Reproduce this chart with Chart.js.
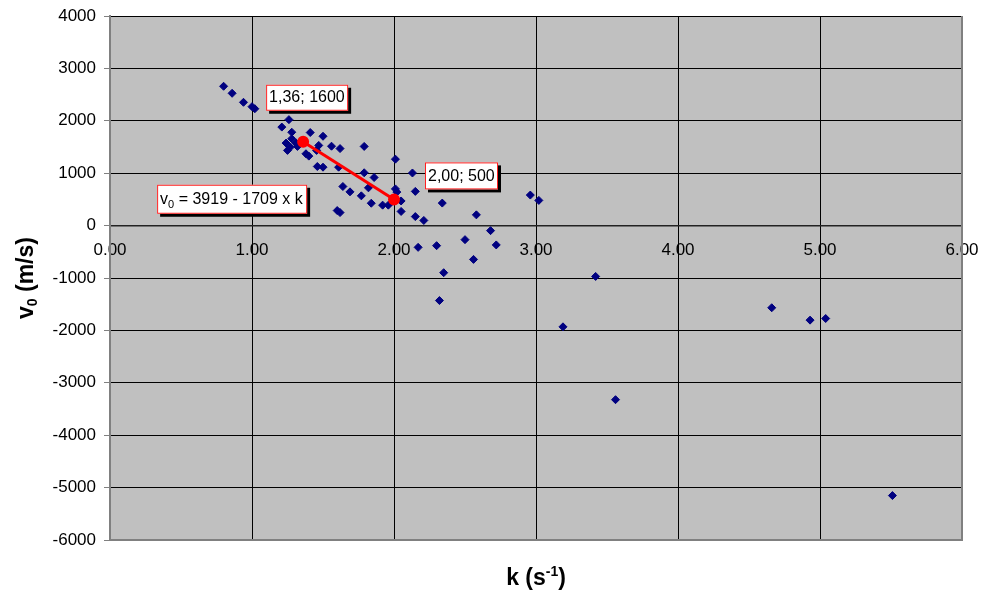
<!DOCTYPE html>
<html>
<head>
<meta charset="utf-8">
<script src="https://cdn.jsdelivr.net/npm/chart.js@4"></script>
<style>
    html, body { margin: 0; padding: 0; background: #fff; }
    #contenedor { width: 992px; height: 595px; }
</style>
</head>
<body>
<div id="contenedor"><canvas id="graficoV0"></canvas></div>
<script>
// datos: k (s^-1) y v0 (m/s)
const kValores = [
    0.80, 0.86, 0.94, 1.00, 1.02, 1.26, 1.21, 1.28, 1.41, 1.50,
    1.79, 1.56, 1.62, 1.24, 1.28, 1.31, 1.27, 1.25, 1.32, 1.47,
    1.455, 1.38, 1.40, 1.46, 1.50, 1.61, 1.79, 1.86, 2.01, 2.13,
    1.64, 1.69, 1.82, 1.77, 1.84, 1.92, 1.96, 2.01, 2.02, 2.05,
    2.05, 2.15, 2.15, 2.21, 2.34, 1.60, 1.62, 2.96, 3.02, 2.58,
    2.68, 2.50, 2.72, 2.17, 2.30, 2.56, 2.35, 2.32, 3.42, 3.19,
    3.56, 4.66, 4.93, 5.04, 5.51
];
const v0Valores = [
    2659, 2525, 2353, 2270, 2230, 2022, 1880, 1782, 1776, 1705,
    1511, 1515, 1470, 1575, 1658, 1575, 1498, 1435, 1511, 1530,
    1435, 1371, 1326, 1128, 1115, 1115, 1008, 918, 1268, 1004,
    746, 644, 721, 568, 427, 390, 390, 700, 640, 470,
    270, 653, 172, 98, 430, 287, 249, 583, 481, 205,
    -96, -268, -369, -415, -383, -645, -899, -1430, -970, -1932,
    -3322, -1568, -1804, -1773, -5152
];

// recta de ajuste (dos puntos marcados)
const ajusteK = [1.36, 2.00];
const ajusteV0 = [1600, 500];
const ecuacionA = 3919;
const ecuacionB = 1709;

// ejes
const ejeXMin = 0, ejeXMax = 6, ejeXPaso = 1;
const ejeYMin = -6000, ejeYMax = 4000, ejeYPaso = 1000;

const fuente = "'Liberation Sans', Arial, sans-serif";

// Fondo gris del area de trazado
const fondoPlugin = {
    id: 'fondo',
    beforeDraw(chart) {
        const { ctx, chartArea: a } = chart;
        ctx.save();
        ctx.fillStyle = '#c0c0c0';
        ctx.fillRect(a.left, a.top, a.right - a.left, a.bottom - a.top);
        ctx.restore();
    },
    beforeDatasetsDraw(chart) {
        // marco gris derecho e inferior
        const { ctx, chartArea: a } = chart;
        ctx.save();
        ctx.strokeStyle = '#808080';
        ctx.lineWidth = 2;
        ctx.beginPath();
        ctx.moveTo(a.right, a.top);
        ctx.lineTo(a.right, a.bottom);
        ctx.lineTo(a.left, a.bottom);
        ctx.stroke();
        ctx.restore();
    }
};

// Cajas de texto (etiquetas y ecuacion)
function caja(ctx, x, y, w, h) {
    ctx.fillStyle = '#000';
    ctx.fillRect(x + 3, y + 3, w, h);
    ctx.fillStyle = '#fff';
    ctx.fillRect(x, y, w, h);
    ctx.strokeStyle = '#ff2020';
    ctx.lineWidth = 1;
    ctx.strokeRect(x + 0.5, y + 0.5, w - 1, h - 1);
}

const etiquetasPlugin = {
    id: 'etiquetas',
    afterDatasetsDraw(chart) {
        const { ctx, scales: { x, y } } = chart;
        ctx.save();
        ctx.font = '16px ' + fuente;
        ctx.textBaseline = 'middle';
        ctx.textAlign = 'left';

        const ax = x.getPixelForValue(ajusteK[0]);
        const ay = y.getPixelForValue(ajusteV0[0]);
        const bx = x.getPixelForValue(ajusteK[1]);
        const by = y.getPixelForValue(ajusteV0[1]);

        // etiqueta punto A
        const txtA = ajusteK[0].toFixed(2).replace('.', ',') + '; ' + ajusteV0[0];
        caja(ctx, ax - 37, ay - 57, 82, 26);
        ctx.fillStyle = '#000';
        ctx.fillText(txtA, ax - 34, ay - 44);

        // etiqueta punto B
        const txtB = ajusteK[1].toFixed(2).replace('.', ',') + '; ' + ajusteV0[1];
        caja(ctx, bx + 31, by - 37, 73, 27);
        ctx.fillStyle = '#000';
        ctx.fillText(txtB, bx + 34, by - 23);

        // ecuacion
        const ex = ax - 146, ey = ay + 43;
        caja(ctx, ex, ey, 150, 29);
        ctx.fillStyle = '#000';
        let cx = ex + 3;
        const cy = ey + 15;
        ctx.fillText('v', cx, cy);
        cx += ctx.measureText('v').width;
        ctx.font = '11px ' + fuente;
        ctx.fillText('0', cx, cy + 5);
        cx += ctx.measureText('0').width;
        ctx.font = '16px ' + fuente;
        ctx.fillText(' = ' + ecuacionA + ' - ' + ecuacionB + ' x k', cx, cy);
        ctx.restore();
    }
};

// Titulos de ejes con subindice / superindice
const titulosPlugin = {
    id: 'titulos',
    afterDraw(chart) {
        const { ctx, chartArea: a } = chart;
        ctx.save();
        ctx.fillStyle = '#000';
        ctx.textBaseline = 'alphabetic';
        ctx.textAlign = 'left';
        const grande = 'bold 23px ' + fuente;
        const chico = 'bold 14px ' + fuente;

        // eje X: k (s-1)
        ctx.font = grande;
        const p1 = 'k (s', p3 = ')';
        const w1 = ctx.measureText(p1).width, w3 = ctx.measureText(p3).width;
        ctx.font = chico;
        const w2 = ctx.measureText('-1').width;
        let cx = (a.left + a.right) / 2 - (w1 + w2 + w3) / 2;
        const baseX = 585;
        ctx.font = grande;
        ctx.fillText(p1, cx, baseX);
        cx += w1;
        ctx.font = chico;
        ctx.fillText('-1', cx, baseX - 9);
        cx += w2;
        ctx.font = grande;
        ctx.fillText(p3, cx, baseX);

        // eje Y: v0 (m/s)
        ctx.translate(33, (a.top + a.bottom) / 2);
        ctx.rotate(-Math.PI / 2);
        ctx.font = grande;
        const q1 = 'v', q3 = ' (m/s)';
        const u1 = ctx.measureText(q1).width, u3 = ctx.measureText(q3).width;
        ctx.font = chico;
        const u2 = ctx.measureText('0').width;
        let cy = -(u1 + u2 + u3) / 2;
        ctx.font = grande;
        ctx.fillText(q1, cy, 0);
        cy += u1;
        ctx.font = chico;
        ctx.fillText('0', cy, 4);
        cy += u2;
        ctx.font = grande;
        ctx.fillText(q3, cy, 0);
        ctx.restore();
    }
};

function crearGrafico() {
    const puntos = kValores.map((k, i) => ({ x: k, y: v0Valores[i] }));
    const recta = ajusteK.map((k, i) => ({ x: k, y: ajusteV0[i] }));
    const ctx = document.getElementById('graficoV0').getContext('2d');

    new Chart(ctx, {
        type: 'scatter',
        data: {
            datasets: [
                {
                    label: 'Ajuste',
                    data: recta,
                    showLine: true,
                    borderColor: '#ff0000',
                    borderWidth: 3,
                    pointStyle: 'circle',
                    pointRadius: 4.5,
                    pointBackgroundColor: '#ff0000',
                    pointBorderColor: '#ff0000'
                },
                {
                    label: 'v0',
                    data: puntos,
                    pointStyle: 'rectRot',
                    pointRadius: 4,
                    pointBorderWidth: 1,
                    pointBackgroundColor: '#000080',
                    pointBorderColor: '#000080'
                }
            ]
        },
        options: {
            responsive: true,
            maintainAspectRatio: false,
            animation: false,
            layout: { padding: { top: 16, right: 30, left: 0, bottom: 55 } },
            plugins: {
                legend: { display: false },
                tooltip: { enabled: false }
            },
            scales: {
                x: {
                    type: 'linear',
                    position: { y: 0 },
                    min: ejeXMin,
                    max: ejeXMax,
                    ticks: {
                        stepSize: ejeXPaso,
                        color: '#000',
                        padding: 9,
                        font: { family: fuente, size: 17 },
                        maxRotation: 0,
                        callback: v => v.toFixed(2)
                    },
                    grid: { color: '#000', lineWidth: 1, tickLength: 6, tickColor: '#000' },
                    border: { color: '#222', width: 1.5 }
                },
                y: {
                    type: 'linear',
                    min: ejeYMin,
                    max: ejeYMax,
                    afterFit: s => { s.width = 110; s.paddingTop = 0; s.paddingBottom = 0; },
                    ticks: {
                        stepSize: ejeYPaso,
                        color: '#000',
                        padding: 8,
                        font: { family: fuente, size: 17 },
                        callback: v => String(v)
                    },
                    grid: { color: '#000', lineWidth: 1, tickLength: 6, tickColor: '#808080' },
                    border: { color: '#808080', width: 2 }
                }
            }
        },
        plugins: [fondoPlugin, etiquetasPlugin, titulosPlugin]
    });
}

window.onload = crearGrafico;
</script>
</body>
</html>
